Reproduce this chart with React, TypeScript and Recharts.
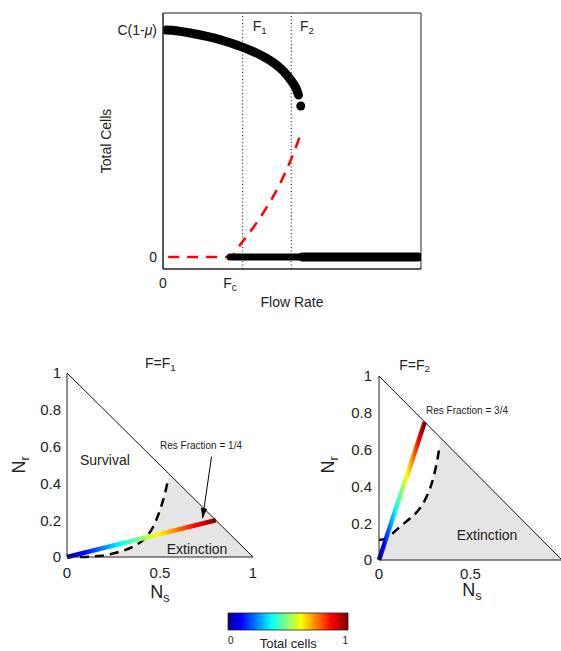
import React from 'react';
import { ComposedChart, BarChart, Bar, Line, Area, XAxis, YAxis, ReferenceLine, ReferenceArea } from 'recharts';

const FONT = '"Liberation Sans", Arial, Helvetica, sans-serif';
const INK = '#222';

// top panel: total cells vs flow rate
const FC = 0.26;
const F1 = 0.309;
const F2 = 0.497;
const flowTicks = [0, FC];
const cellTicks = [0, 1];
const cellDomain = [-0.053, 1.075];
const stableUpper = [
  { x: 0.012, y: 1.0 }, { x: 0.05, y: 0.997 }, { x: 0.1, y: 0.988 }, { x: 0.15, y: 0.977 },
  { x: 0.2, y: 0.964 }, { x: 0.25, y: 0.947 }, { x: 0.3, y: 0.928 }, { x: 0.35, y: 0.905 },
  { x: 0.4, y: 0.876 }, { x: 0.44, y: 0.846 }, { x: 0.47, y: 0.815 }, { x: 0.5, y: 0.772 },
  { x: 0.515, y: 0.745 }, { x: 0.525, y: 0.714 },
];
const lastUpper = [{ x: 0.534, y: 0.665 }];
const zeroThin = [{ x: FC, y: 0 }, { x: 0.535, y: 0 }];
const zeroThick = [{ x: 0.54, y: 0 }, { x: 0.99, y: 0 }];
const unstable = [
  { x: 0.02, y: 0 }, { x: FC, y: 0 }, { x: 0.3, y: 0.055 }, { x: 0.35, y: 0.13 },
  { x: 0.4, y: 0.215 }, { x: 0.45, y: 0.315 }, { x: 0.5, y: 0.44 }, { x: 0.535, y: 0.545 },
];

// bottom panels: phase plane Ns vs Nr
const nrTicks = [0, 0.2, 0.4, 0.6, 0.8, 1];
const nsTicksF1 = [0, 0.5, 1];
const nsTicksF2 = [0, 0.5];
const simplex = [{ x: 0, y: 1 }, { x: 1, y: 0 }];

const sepF1 = [
  { x: 0.07, y: 0 }, { x: 0.187, y: 0.007 }, { x: 0.286, y: 0.03 }, { x: 0.357, y: 0.057 },
  { x: 0.42, y: 0.103 }, { x: 0.464, y: 0.166 }, { x: 0.5, y: 0.256 }, { x: 0.527, y: 0.347 },
  { x: 0.545, y: 0.43 },
];
const extinctF1 = [...sepF1, { x: 0.55, y: 0.45 }, { x: 1, y: 0 }];
const trajF1 = [{ x: 0, y: 0 }, { x: 0.8, y: 0.2 }];
const arrowF1 = [{ x: 0.777, y: 0.545 }, { x: 0.729, y: 0.211 }];

const sepF2 = [
  { x: 0, y: 0.109 }, { x: 0.04, y: 0.118 }, { x: 0.097, y: 0.165 }, { x: 0.15, y: 0.21 },
  { x: 0.206, y: 0.26 }, { x: 0.251, y: 0.326 }, { x: 0.288, y: 0.417 }, { x: 0.315, y: 0.525 },
  { x: 0.33, y: 0.61 },
];
const extinctF2 = [{ x: 0, y: 0 }, ...sepF2.slice(1), { x: 0.335, y: 0.665 }, { x: 1, y: 0 }];
const trajF2 = [{ x: 0, y: 0 }, { x: 0.25, y: 0.75 }];

// colour scale
const jetStops: [number, string][] = [
  [0, '#00008f'], [0.11, '#0000ff'], [0.36, '#00ffff'], [0.61, '#ffff00'], [0.86, '#ff0000'], [1, '#800000'],
];
const cbTicks = [0, 1];
const cbData = [{ name: 'Total cells', v: 1 }];

const Jet = ({ id }: { id: string }) => (
  <defs>
    <linearGradient id={id} x1="0" y1="0" x2="1" y2="0">
      {jetStops.map(([o, c]) => (
        <stop key={o} offset={o} stopColor={c} />
      ))}
    </linearGradient>
  </defs>
);

const FlowTick = ({ x, y, payload }: any) => (
  <text x={x} y={y} dy="0.71em" textAnchor="middle" fontSize={14} fill={INK}>
    {payload.value === 0 ? '0' : (
      <>
        <tspan>F</tspan>
        <tspan dy="0.3em" fontSize={10}>c</tspan>
      </>
    )}
  </text>
);

const CellTick = ({ x, y, payload }: any) => (
  <text x={x} y={y} dy="0.35em" textAnchor="end" fontSize={14} fill={INK}>
    {payload.value === 0 ? '0' : (
      <>
        C(1-<tspan fontStyle="italic">μ</tspan>)
      </>
    )}
  </text>
);

const CbTick = ({ x, y, payload }: any) => (
  <text x={x} y={y} dy="0.71em" textAnchor={payload.value === 0 ? 'start' : 'end'} fontSize={10} fill={INK}>
    {payload.value}
  </text>
);

const ArrowHead = (p: any) => {
  if (p.index !== 1) return <g key={'ah' + p.index} />;
  let ang = Math.atan2(61.6, -9);
  if (p.points && p.points.length > 1) {
    const a = p.points[0];
    const b = p.points[1];
    ang = Math.atan2(b.y - a.y, b.x - a.x);
  }
  const L = 10;
  const W = 3.2;
  const bx = p.cx - L * Math.cos(ang);
  const by = p.cy - L * Math.sin(ang);
  const pts = [
    [p.cx, p.cy],
    [bx - W * Math.sin(ang), by + W * Math.cos(ang)],
    [bx + W * Math.sin(ang), by - W * Math.cos(ang)],
  ];
  return <polygon key="ah1" points={pts.map((q) => q.join(',')).join(' ')} fill="#000" />;
};

const Sub = ({ main, sub, size }: { main: string; sub: string; size: number }) => (
  <>
    <tspan>{main}</tspan>
    <tspan dy="0.3em" fontSize={size * 0.7}>{sub}</tspan>
  </>
);

export default function App() {
  return (
    <div style={{ position: 'absolute', left: 0, top: 0, width: 561, height: 651, overflow: 'hidden', background: '#fff', fontFamily: FONT }}>
      {/* top panel */}
      <div style={{ position: 'absolute', left: 0, top: 0 }}>
        <ComposedChart width={561} height={320} margin={{ top: 13, right: 140, bottom: 0, left: 0 }}>
          <XAxis type="number" dataKey="x" domain={[0, 1]} ticks={flowTicks} tick={<FlowTick />} tickLine={false}
            axisLine={{ stroke: INK }} height={51} tickMargin={3} allowDataOverflow />
          <YAxis type="number" domain={cellDomain} ticks={cellTicks} tick={<CellTick />} tickLine={false}
            width={163} tickMargin={0} axisLine={{ stroke: INK }} allowDataOverflow />
          <ReferenceArea x1={0} x2={1} y1={cellDomain[0]} y2={cellDomain[1]} fill="none" stroke={INK}
            strokeWidth={1} fillOpacity={0} />
          <ReferenceLine x={F1} stroke="#000" strokeDasharray="1 2.5" />
          <ReferenceLine x={F2} stroke="#000" strokeDasharray="1 2.5" />
          <Line data={unstable} dataKey="y" type="monotone" stroke="#ff0000" strokeWidth={2.5}
            strokeDasharray="11 8" dot={false} isAnimationActive={false} />
          <Line data={stableUpper} dataKey="y" type="monotone" stroke="#000" strokeWidth={9}
            strokeLinecap="round" dot={false} isAnimationActive={false} />
          <Line data={lastUpper} dataKey="y" stroke="none" dot={{ r: 4.5, fill: '#000', stroke: 'none' }}
            isAnimationActive={false} />
          <Line data={zeroThin} dataKey="y" stroke="#000" strokeWidth={7} strokeLinecap="round" dot={false}
            isAnimationActive={false} />
          <Line data={zeroThick} dataKey="y" stroke="#000" strokeWidth={9} strokeLinecap="round" dot={false}
            isAnimationActive={false} />
        </ComposedChart>
      </div>

      {/* F = F1 */}
      <div style={{ position: 'absolute', left: 0, top: 345 }}>
        <ComposedChart width={280} height={255} margin={{ top: 28, right: 27, bottom: 0, left: 0 }}>
          <Jet id="jetF1" />
          <XAxis type="number" dataKey="x" domain={[0, 1]} ticks={nsTicksF1} tickLine={false}
            tick={{ fontSize: 15, fill: INK }} tickMargin={4} height={43} axisLine={{ stroke: INK }} />
          <YAxis type="number" domain={[0, 1]} ticks={nrTicks} tickLine={false} tick={{ fontSize: 15, fill: INK }}
            tickMargin={0} width={67} axisLine={{ stroke: INK }} />
          <Area data={extinctF1} dataKey="y" type="linear" fill="#e5e5e5" fillOpacity={1} stroke="none"
            baseValue={0} isAnimationActive={false} />
          <Line data={simplex} dataKey="y" stroke="#111" strokeWidth={1} dot={false} isAnimationActive={false} />
          <Line data={sepF1} dataKey="y" type="monotone" stroke="#000" strokeWidth={2.5} strokeDasharray="9 6"
            dot={false} isAnimationActive={false} />
          <Line data={trajF1} dataKey="y" stroke="url(#jetF1)" strokeWidth={4.5} dot={false} isAnimationActive={false} />
          <Line data={arrowF1} dataKey="y" stroke="#000" strokeWidth={1} dot={<ArrowHead />} isAnimationActive={false} />
        </ComposedChart>
      </div>

      {/* F = F2 */}
      <div style={{ position: 'absolute', left: 290, top: 345 }}>
        <ComposedChart width={290} height={255} margin={{ top: 31, right: 18, bottom: 0, left: 0 }}>
          <Jet id="jetF2" />
          <XAxis type="number" dataKey="x" domain={[0, 1]} ticks={nsTicksF2} tickLine={false}
            tick={{ fontSize: 15, fill: INK }} tickMargin={2} height={40} axisLine={{ stroke: INK }} />
          <YAxis type="number" domain={[0, 1]} ticks={nrTicks} tickLine={false} tick={{ fontSize: 15, fill: INK }}
            tickMargin={1} width={89} axisLine={{ stroke: INK }} />
          <Area data={extinctF2} dataKey="y" type="linear" fill="#e5e5e5" fillOpacity={1} stroke="none"
            baseValue={0} isAnimationActive={false} />
          <Line data={simplex} dataKey="y" stroke="#111" strokeWidth={1} dot={false} isAnimationActive={false} />
          <Line data={sepF2} dataKey="y" type="monotone" stroke="#000" strokeWidth={2.5} strokeDasharray="9 6"
            dot={false} isAnimationActive={false} />
          <Line data={trajF2} dataKey="y" stroke="url(#jetF2)" strokeWidth={4.5} dot={false} isAnimationActive={false} />
        </ComposedChart>
      </div>

      {/* colour bar */}
      <div style={{ position: 'absolute', left: 200, top: 600 }}>
        <BarChart width={180} height={51} layout="vertical" data={cbData} barCategoryGap={0}
          margin={{ top: 13, right: 32, bottom: 0, left: 28 }}>
          <Jet id="jetBar" />
          <XAxis type="number" domain={[0, 1]} ticks={cbTicks} tick={<CbTick />} tickLine={false} axisLine={false}
            height={21} tickMargin={1} />
          <YAxis type="category" dataKey="name" hide width={0} />
          <Bar dataKey="v" fill="url(#jetBar)" stroke={INK} strokeWidth={0.8} isAnimationActive={false} />
        </BarChart>
      </div>

      {/* titles, axis names and notes */}
      <svg width={561} height={651} style={{ position: 'absolute', left: 0, top: 0, pointerEvents: 'none' }}
        fontFamily={FONT} fill={INK}>
        <text x={252.7} y={30.7} fontSize={14}><Sub main="F" sub="1" size={14} /></text>
        <text x={300} y={30.7} fontSize={14}><Sub main="F" sub="2" size={14} /></text>
        <text transform="translate(111,141) rotate(-90)" textAnchor="middle" fontSize={14}>Total Cells</text>
        <text x={292} y={307} textAnchor="middle" fontSize={14}>Flow Rate</text>

        <text x={145} y={367.7} fontSize={14}>F=<Sub main="F" sub="1" size={14} /></text>
        <text transform="translate(25,465) rotate(-90)" textAnchor="middle" fontSize={18}><Sub main="N" sub="r" size={18} /></text>
        <text x={160} y={598} textAnchor="middle" fontSize={18}><Sub main="N" sub="s" size={18} /></text>
        <text x={80} y={465} fontSize={14}>Survival</text>
        <text x={166.7} y={554} fontSize={14}>Extinction</text>
        <text x={160} y={448.6} fontSize={10}>Res Fraction = 1/4</text>

        <text x={399.3} y={369.5} fontSize={14}>F=<Sub main="F" sub="2" size={14} /></text>
        <text transform="translate(334,465) rotate(-90)" textAnchor="middle" fontSize={18}><Sub main="N" sub="r" size={18} /></text>
        <text x={472} y={596} textAnchor="middle" fontSize={18}><Sub main="N" sub="s" size={18} /></text>
        <text x={456.7} y={540} fontSize={14}>Extinction</text>
        <text x={426} y={414.3} fontSize={10}>Res Fraction = 3/4</text>

        <text x={288.3} y={648} textAnchor="middle" fontSize={13}>Total cells</text>
      </svg>
    </div>
  );
}
